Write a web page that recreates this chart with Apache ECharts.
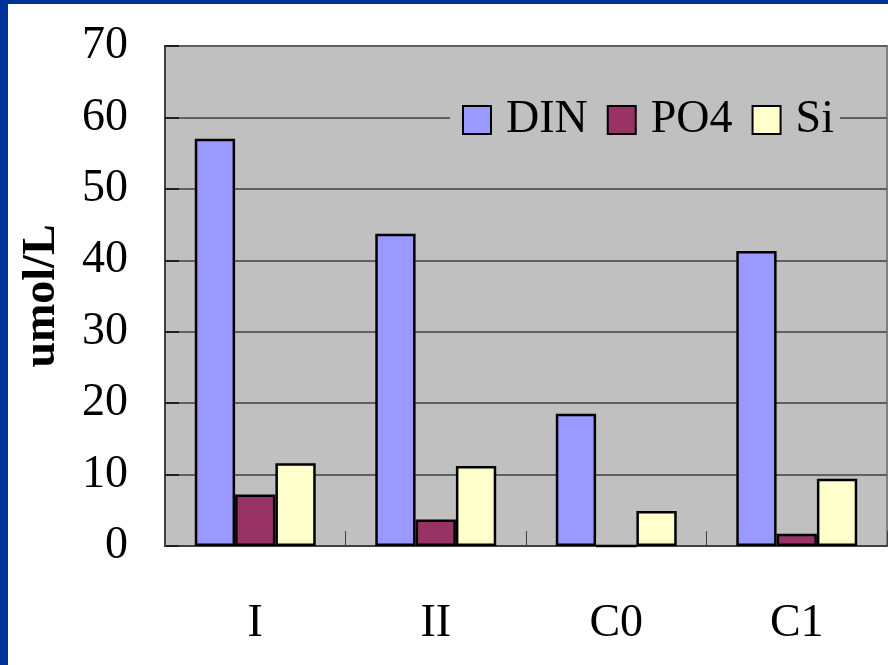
<!DOCTYPE html>
<html>
<head>
<meta charset="utf-8">
<script src="https://cdn.jsdelivr.net/npm/echarts@6/dist/echarts.min.js"></script>
<style>
  html, body { margin: 0; padding: 0; background: #ffffff; }
  #chart { width: 888px; height: 665px; }
</style>
</head>
<body>
<div id="chart"></div>
<script>
// Nutrient concentrations by station group (umol/L)
const categories = ['I', 'II', 'C0', 'C1'];
const dinValues = [57.0, 43.7, 18.5, 41.3];
const po4Values = [7.2, 3.7, 0, 1.7];
const siValues = [11.6, 11.2, 4.9, 9.4];
const yTicks = [0, 10, 20, 30, 40, 50, 60, 70];

const serif = "'Liberation Serif', 'Times New Roman', serif";

const chart = echarts.init(document.getElementById('chart'), null, { renderer: 'canvas' });

function barSeries(name, data, color) {
  return {
    name: name,
    type: 'bar',
    data: data,
    barGap: '0%',
    barCategoryGap: '33%',
    itemStyle: { color: color, borderColor: '#000000', borderWidth: 2.5 },
    emphasis: { disabled: true }
  };
}

chart.setOption({
  animation: false,
  backgroundColor: '#ffffff',
  textStyle: { fontFamily: serif },
  graphic: [
    { type: 'rect', left: 0, top: 0, shape: { width: 8, height: 665 }, style: { fill: '#003399' }, z: 100 },
    { type: 'rect', left: 0, top: 0, shape: { width: 888, height: 4 }, style: { fill: '#003399' }, z: 100 }
  ],
  grid: {
    left: 165, top: 46, right: 1, bottom: 119,
    show: true,
    backgroundColor: '#C0C0C0',
    borderColor: '#808080',
    borderWidth: 2
  },
  legend: {
    data: ['DIN', 'PO4', 'Si'],
    left: 450,
    top: 89,
    icon: 'rect',
    itemWidth: 28,
    itemHeight: 28,
    itemGap: 19,
    backgroundColor: '#C0C0C0',
    padding: [8, 6, 8, 12],
    textStyle: { fontFamily: serif, fontSize: 46, color: '#000000', padding: [0, 0, 0, 10] }
  },
  xAxis: {
    type: 'category',
    data: categories,
    axisLine: { show: true, lineStyle: { color: '#404040', width: 2 } },
    axisTick: { show: true, inside: true, length: 15, lineStyle: { color: '#404040', width: 1 } },
    axisLabel: { fontFamily: serif, fontSize: 46, color: '#000000', margin: 55 },
    splitLine: { show: false }
  },
  yAxis: {
    type: 'value',
    min: 0,
    max: 70,
    interval: 10,
    name: 'umol/L',
    nameLocation: 'middle',
    nameRotate: 90,
    nameGap: 100,
    nameTextStyle: { fontFamily: serif, fontSize: 46, fontWeight: 'bold', color: '#000000' },
    axisLine: { show: true, lineStyle: { color: '#404040', width: 2 } },
    axisTick: { show: true, inside: true, length: 14, lineStyle: { color: '#202020', width: 2 } },
    axisLabel: {
      fontFamily: serif, fontSize: 46, color: '#000000', margin: 37,
      formatter: function (v) { return yTicks.indexOf(v) >= 0 ? String(v) : ''; }
    },
    splitLine: { show: true, lineStyle: { color: '#606060', width: 2 } }
  },
  series: [
    barSeries('DIN', dinValues, '#9999FF'),
    barSeries('PO4', po4Values, '#993366'),
    barSeries('Si', siValues, '#FFFFCC')
  ]
});
</script>
</body>
</html>
